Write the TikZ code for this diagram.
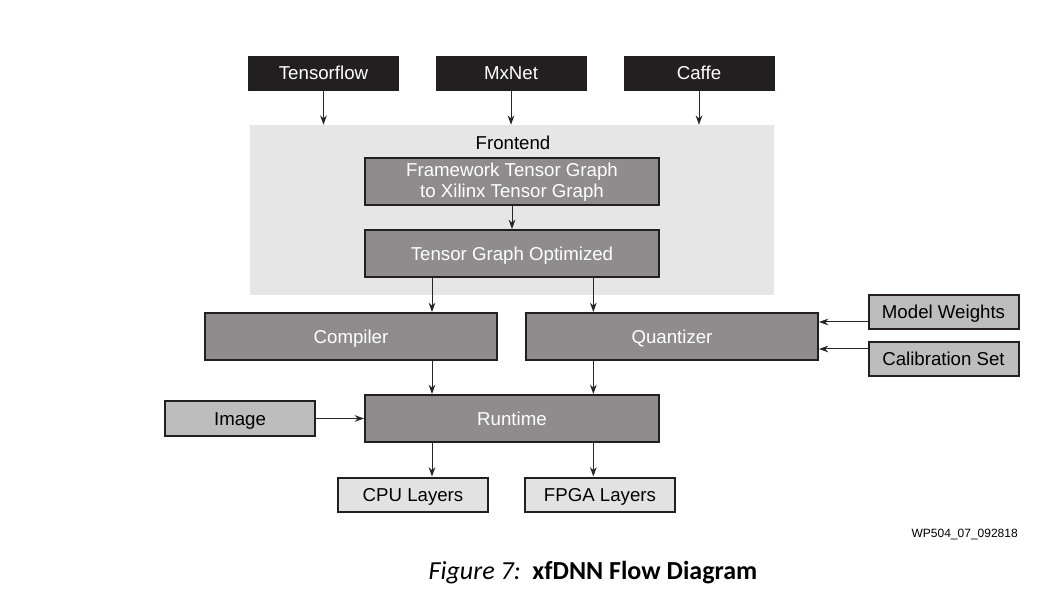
\documentclass[tikz,border=0pt]{standalone}
\usepackage{fontspec}
\setmainfont{Liberation Sans}
\newfontfamily\capfont{Carlito}
\usetikzlibrary{arrows.meta,positioning}
\definecolor{srcblack}{HTML}{231F20}
\definecolor{stagegray}{HTML}{8E8C8C}
\definecolor{edgedark}{HTML}{231F20}
\definecolor{frontgray}{HTML}{E6E6E6}
\definecolor{ingray}{HTML}{BDBDBD}
\definecolor{outgray}{HTML}{E2E2E2}
\tikzset{
    %Define standard arrow tip
    >={Stealth[length=7pt,width=5pt]},
    %Define style for boxes
    oneline/.style={
           text height=10pt,
           text depth=0pt},
    source/.style={
           rectangle, oneline,
           draw=srcblack, fill=srcblack,
           text=white,
           minimum width=112.5pt,
           minimum height=25.5pt,
           inner sep=0pt,
           font=\fontsize{14}{16}\selectfont,
           text centered},
    stage/.style={
           rectangle,
           draw=edgedark, line width=1.5pt,
           fill=stagegray,
           text=white,
           minimum width=220.5pt,
           minimum height=35.25pt,
           inner sep=0pt,
           align=center,
           font=\fontsize{14}{15.75}\selectfont},
    inbox/.style={
           rectangle, oneline,
           draw=edgedark, line width=1.5pt,
           fill=ingray,
           minimum width=112.5pt,
           minimum height=25.5pt,
           inner sep=0pt,
           font=\fontsize{14}{16}\selectfont,
           text centered},
    outbox/.style={
           inbox,
           fill=outgray},
    % Define arrow style
    pil/.style={
           ->,
           line width=0.75pt,
           draw=black!85}
}
\begin{document}
\begin{tikzpicture}[x=0.75pt,y=-0.75pt]
\path[use as bounding box, fill=white] (0,0) rectangle (1051,606);
% frontend area
\node[fill=frontgray, minimum width=393pt, minimum height=127.5pt, inner sep=0pt] (fe) at (512,210) {};
\node[oneline, font=\fontsize{14}{16}\selectfont] (felabel) at (513,143) {Frontend};
% frameworks
\node[source] (tf) at (323.5,73) {Tensorflow};
\node[source] (mx) at (511,73) {MxNet};
\node[source] (caffe) at (699,73) {Caffe};
% stages
\node[stage] (conv) at (512,182) {Framework Tensor Graph\\to Xilinx Tensor Graph};
\node[stage, oneline] (opt) at (512,253.5) {Tensor Graph Optimized};
\node[stage, oneline, minimum width=219pt] (comp) at (351,336.5) {Compiler};
\node[stage, oneline, minimum width=219pt] (quant) at (672,336.5) {Quantizer};
\node[stage, oneline] (rt) at (512,418.5) {Runtime};
% inputs and outputs
\node[inbox] (mw) at (943.5,312) {Model Weights};
\node[inbox] (cal) at (943.5,359) {Calibration Set};
\node[inbox] (img) at (240,418.5) {Image};
\node[outbox] (cpu) at (413,494.5) {CPU Layers};
\node[outbox] (fpga) at (600,494.5) {FPGA Layers};
% labels
\node[anchor=east, font=\fontsize{9}{10}\selectfont, inner sep=0pt] (tag) at (1018,535) {WP504\_07\_092818};
\node[font=\capfont\fontsize{19.5}{22}\selectfont] (caption) at (593,573) {\itshape Figure 7:\ \ \upshape\bfseries xfDNN Flow Diagram};
% connectors
\draw[pil] (tf.south) -- (tf.south |- fe.north);
\draw[pil] (mx.south) -- (mx.south |- fe.north);
\draw[pil] (caffe.south) -- (caffe.south |- fe.north);
\draw[pil] (conv) -- (opt);
\draw[pil] ([xshift=-60pt]opt.south) -- ([xshift=-60pt]opt.south |- comp.north);
\draw[pil] ([xshift=61pt]opt.south) -- ([xshift=61pt]opt.south |- quant.north);
\draw[pil] ([yshift=-7.5pt]mw.west) -- ([yshift=-7.5pt]mw.west -| quant.east);
\draw[pil] ([yshift=7.5pt]cal.west) -- ([yshift=7.5pt]cal.west -| quant.east);
\draw[pil] ([xshift=-60pt]rt.north |- comp.south) -- ([xshift=-60pt]rt.north);
\draw[pil] ([xshift=61pt]rt.north |- quant.south) -- ([xshift=61pt]rt.north);
\draw[pil] (img) -- (rt);
\draw[pil] ([xshift=-60pt]rt.south) -- ([xshift=-60pt]rt.south |- cpu.north);
\draw[pil] ([xshift=61pt]rt.south) -- ([xshift=61pt]rt.south |- fpga.north);
\end{tikzpicture}
\end{document}
